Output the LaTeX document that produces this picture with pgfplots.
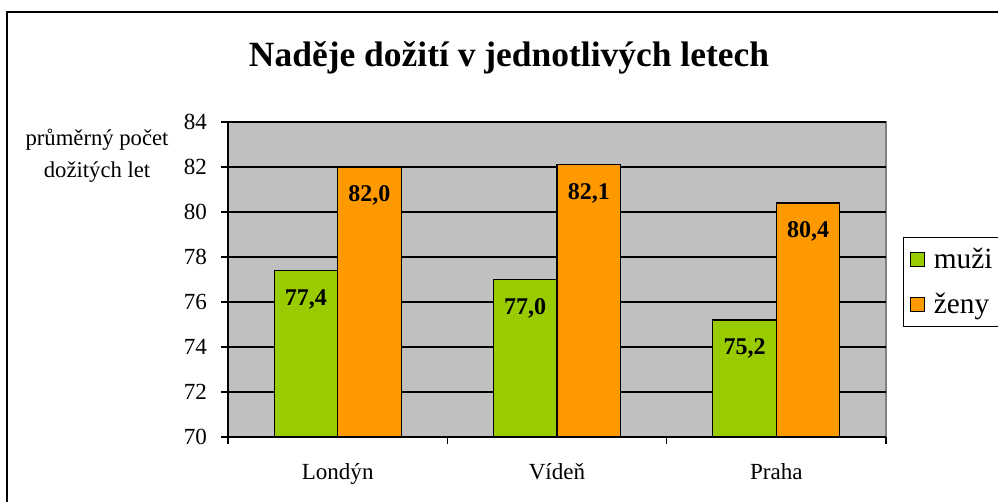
\documentclass[border=0pt]{standalone}
\usepackage{pgfplots}
\pgfplotsset{compat=1.18}
\usepackage{fontspec}
\setmainfont{Liberation Serif}
\definecolor{cgreen}{HTML}{99CC00}
\definecolor{corange}{HTML}{FF9900}
\definecolor{cplot}{HTML}{C0C0C0}
\definecolor{cborder}{HTML}{808080}
\begin{document}
\begin{tikzpicture}[x=0.75pt,y=0.75pt]
\useasboundingbox (0,0) rectangle (998,502);
\clip (0,0) rectangle (998,502);
\fill[white] (0,0) rectangle (998,502);
\draw[black, line width=1.3pt] (7,490) rectangle (1010,-10);
\node[font=\fontsize{26.6}{30}\selectfont\bfseries] at (509,444) {Naděje dožití v jednotlivých letech};
\begin{axis}[
  at={(171pt,48.75pt)}, anchor=south west,
  scale only axis, width=493.5pt, height=236.25pt,
  xmin=0, xmax=3, ymin=70, ymax=84,
  ytick={70,72,...,84},
  xtick={0,1,2,3}, xticklabels={},
  extra x ticks={0.5,1.5,2.5},
  extra x tick labels={Londýn,Vídeň,Praha},
  extra x tick style={major tick length=0pt, grid=none, tick label style={yshift=-16pt}},
  axis x line*=bottom, axis y line*=left,
  axis line style={-, black, line width=0.8pt},
  axis background/.style={fill=cplot, draw=cborder, line width=0.8pt},
  tick align=outside, major tick length=5.25pt,
  tick style={black, line width=0.8pt},
  ymajorgrids, grid style={black, line width=0.8pt},
  /pgf/number format/assume math mode=true,
  tick label style={font=\fontsize{17.3}{20}\selectfont},
  yticklabel style={xshift=-7pt},
  ylabel={průměrný počet\\dožitých let},
  ylabel style={rotate=-90, align=center, font=\fontsize{17}{24}\selectfont, at={(axis description cs:-0.199,0.892)}, anchor=center},
  ybar=0pt, bar width=0.29,
  nodes near coords={\pgfmathprintnumber[use comma, fixed, fixed zerofill, precision=1, assume math mode=true]{\pgfplotspointmeta}},
  every node near coord/.append style={font=\fontsize{18}{20}\selectfont\bfseries, anchor=center, yshift=-21.5pt, black},
  legend style={at={(1.0258,0.6349)}, anchor=north west, draw=black, fill=white, line width=0.8pt,
    font=\fontsize{22}{24}\selectfont, inner xsep=4.5pt, inner ysep=6pt, row sep=13pt, column sep=5pt, cells={anchor=west}},
  legend image code/.code={\draw[#1, draw=black, line width=0.8pt] (0pt,-5.25pt) rectangle (10.5pt,5.25pt);},
]
\addplot[fill=cgreen, draw=black, line width=0.8pt] coordinates {(0.5,77.4) (1.5,77.0) (2.5,75.2)};
\addplot[fill=corange, draw=black, line width=0.8pt] coordinates {(0.5,82.0) (1.5,82.1) (2.5,80.4)};
\legend{muži,ženy}
\end{axis}
\end{tikzpicture}
\end{document}
